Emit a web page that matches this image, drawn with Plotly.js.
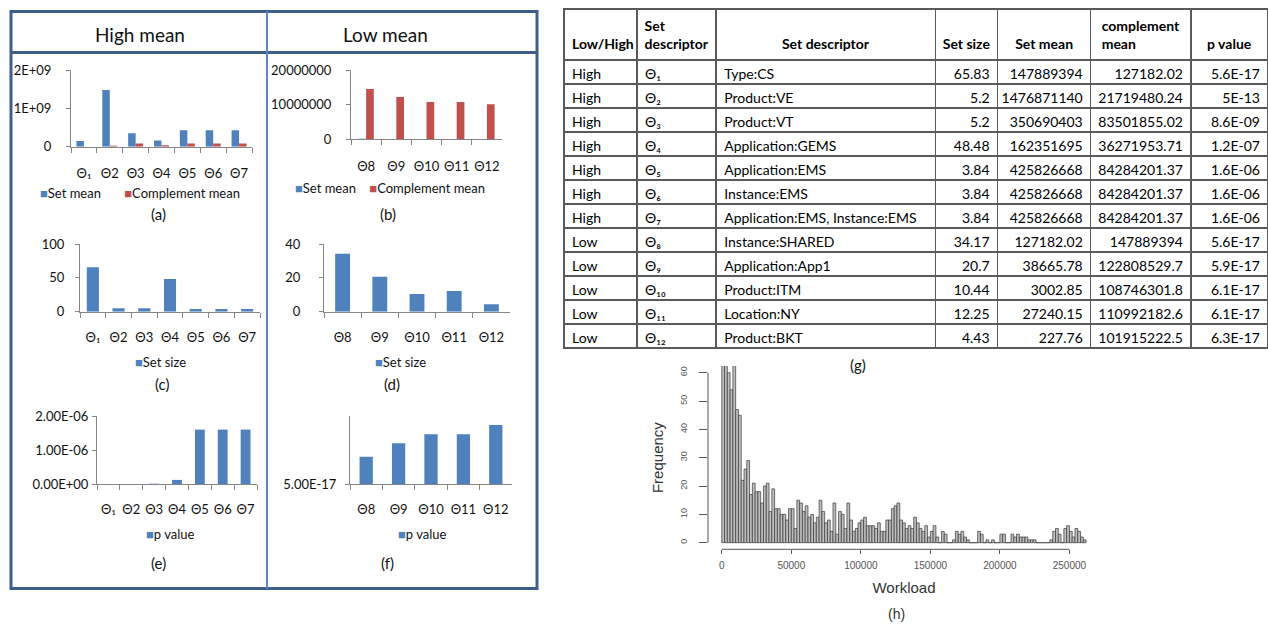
<!DOCTYPE html>
<html><head><meta charset="utf-8">
<script src="https://cdn.plot.ly/plotly-3.0.1.min.js"></script>
<style>html,body{margin:0;padding:0;background:#fff;}#chart{width:1268px;height:624px;}</style>
</head><body><div id="chart"></div>
<script>
// ---------- data: bar panels (a)-(f) ----------
const highSets = ['Θ₁','Θ2','Θ3','Θ4','Θ5','Θ6','Θ7'];
const lowSets = ['Θ8','Θ9','Θ10','Θ11','Θ12'];
const highSetMean = [147889394, 1476871140, 350690403, 162351695, 425826668, 425826668, 425826668];
const highComplementMean = [127182.02, 21719480.24, 83501855.02, 36271953.71, 84284201.37, 84284201.37, 84284201.37];
const lowSetMean = [127182.02, 38665.78, 3002.85, 27240.15, 227.76];
const lowComplementMean = [14500000, 12200000, 10800000, 10800000, 10100000];
const highSetSize = [65.83, 5.2, 5.2, 48.48, 3.84, 3.84, 3.84];
const lowSetSize = [34.17, 20.7, 10.44, 12.25, 4.43];
const highPValue = [5.6e-17, 5e-13, 8.6e-9, 1.2e-7, 1.6e-6, 1.6e-6, 1.6e-6];
const lowPValue = [5.6e-17, 5.9e-17, 6.1e-17, 6.1e-17, 6.3e-17];

// ---------- data: table (g) ----------
const tableHeader = ['\u00a0<br>Low/High', 'Set<br>descriptor', '\u00a0<br>Set descriptor', '\u00a0<br>Set size', '\u00a0<br>Set mean', 'complement<br>mean', '\u00a0<br>p value'];
const tableLowHigh = ['High','High','High','High','High','High','High','Low','Low','Low','Low','Low'];
const tableSetId = ['Θ₁','Θ₂','Θ₃','Θ₄','Θ₅','Θ₆','Θ₇','Θ₈','Θ₉','Θ₁₀','Θ₁₁','Θ₁₂'];
const tableDescriptor = ['Type:CS','Product:VE','Product:VT','Application:GEMS','Application:EMS','Instance:EMS','Application:EMS, Instance:EMS','Instance:SHARED','Application:App1','Product:ITM','Location:NY','Product:BKT'];
const tableSetSize = ['65.83','5.2','5.2','48.48','3.84','3.84','3.84','34.17','20.7','10.44','12.25','4.43'];
const tableSetMean = ['147889394','1476871140','350690403','162351695','425826668','425826668','425826668','127182.02','38665.78','3002.85','27240.15','227.76'];
const tableComplementMean = ['127182.02','21719480.24','83501855.02','36271953.71','84284201.37','84284201.37','84284201.37','147889394','122808529.7','108746301.8','110992182.6','101915222.5'];
const tablePValue = ['5.6E-17','5E-13','8.6E-09','1.2E-07','1.6E-06','1.6E-06','1.6E-06','5.6E-17','5.9E-17','6.1E-17','6.1E-17','6.3E-17'];

// ---------- data: histogram (h) ----------
const workloadBinWidth = 2000;
const workloadCounts = [72,68,60,54,66,47,45,22,26,29, 17,21,18,18,14,20,21,11,19,12,
  12,10,10,8,12,12,5,15,14,11, 13,9,10,7,9,15,11,7,8,4, 14,3,11,10,5,14,8,4,5,7,
  8,9,6,6,6,5,7,4,4,8, 8,12,13,14,8,7,5,6,5,9, 7,5,4,6,2,4,6,2,0,4,
  3,0,0,1,4,3,4,2,1,0, 0,0,4,3,0,1,0,1,0,0, 3,3,0,0,3,2,3,2,2,2,
  1,1,1,0,0,0,0,0,1,4, 5,3,0,5,6,4,2,5,4,2, 1];
const workloadTicks = [0, 50000, 100000, 150000, 200000, 250000];
const freqTicks = [0, 10, 20, 30, 40, 50, 60];

// ---------- layout helpers ----------
const W = 1268, H = 624;
const BLUE = '#4F81BD', RED = '#C0504D';
const dX = (a, b) => [a / W, b / W];
const dY = (top, bottom) => [1 - bottom / H, 1 - top / H];
const XL = 'Lato, "Liberation Sans", sans-serif';
const RF = '"Liberation Sans", Arial, sans-serif';

function catX(domain, anchor, standoff) {
  return {domain: domain, anchor: anchor, type: 'category', showline: true, linecolor: '#868686', linewidth: 1,
    ticks: 'outside', tickson: 'boundaries', ticklen: 5, tickcolor: '#868686', tickangle: 0,
    showgrid: false, zeroline: false, fixedrange: true, ticklabelstandoff: standoff,
    tickfont: {family: XL, size: 13, color: '#111'}};
}
function valY(domain, anchor, range, vals, text, standoff) {
  return {domain: domain, anchor: anchor, range: range, tickvals: vals, ticktext: text, showline: true,
    linecolor: '#868686', linewidth: 1, ticks: 'outside', ticklen: 4, tickcolor: '#868686',
    showgrid: false, zeroline: false, fixedrange: true, ticklabelstandoff: standoff,
    tickfont: {family: XL, size: 13, color: '#111'}};
}
function bar(x, y, xa, ya, color, width, offset) {
  const t = {type: 'bar', x: x, y: y, xaxis: xa, yaxis: ya, width: width,
    marker: {color: color, line: {width: 0}}, showlegend: false, hoverinfo: 'skip'};
  if (offset !== undefined) t.offset = offset;
  return t;
}

const traces = [
  bar(highSets, highSetMean, 'x', 'y', BLUE, 0.29, -0.29),
  bar(highSets, highComplementMean, 'x', 'y', RED, 0.29, 0),
  bar(lowSets, lowSetMean, 'x2', 'y2', BLUE, 0.255, -0.255),
  bar(lowSets, lowComplementMean, 'x2', 'y2', RED, 0.255, 0),
  bar(highSets, highSetSize, 'x3', 'y3', BLUE, 0.47),
  bar(lowSets, lowSetSize, 'x4', 'y4', BLUE, 0.4),
  bar(highSets, highPValue, 'x5', 'y5', BLUE, 0.43),
  bar(lowSets, lowPValue, 'x6', 'y6', BLUE, 0.41),
  {type: 'bar', x: workloadCounts.map((c, i) => i * workloadBinWidth + workloadBinWidth / 2),
    y: workloadCounts, width: workloadBinWidth, xaxis: 'x7', yaxis: 'y7',
    marker: {color: '#bdbdbd', line: {color: '#3a3a3a', width: 0.7}}, showlegend: false, hoverinfo: 'skip'},
  {type: 'table', domain: {x: [564 / W, 1], y: dY(9, 360)}, columnwidth: [73, 79, 219, 62, 93, 100, 77],
    header: {values: tableHeader, height: 48, align: ['left','center','center','center','center','center','center'],
      line: {color: '#5a5a5a', width: 1.5}, fill: {color: '#fff'},
      font: {family: XL, size: 14, color: '#000', weight: 'bold'}},
    cells: {values: [tableLowHigh, tableSetId, tableDescriptor, tableSetSize, tableSetMean, tableComplementMean, tablePValue],
      height: 24, align: ['left','left','left','right','right','right','right'],
      line: {color: '#5a5a5a', width: 1.5}, fill: {color: '#fff'},
      font: {family: XL, size: 14, color: '#000'}}}
];

function ann(text, x, y, size, extra) {
  return Object.assign({text: text, x: x / W, y: 1 - y / H, xref: 'paper', yref: 'paper',
    xanchor: 'center', yanchor: 'middle', showarrow: false,
    font: {family: XL, size: size, color: '#111'}}, extra || {});
}
const sw = c => '<span style="color:' + c + '">■</span>';
const sp = '\u00a0';

const layout = {
  width: W, height: H, margin: {l: 0, r: 0, t: 0, b: 0}, paper_bgcolor: '#fff', plot_bgcolor: 'rgba(0,0,0,0)',
  barmode: 'overlay', showlegend: false,
  xaxis: catX(dX(71, 252), 'y', 15), yaxis: valY(dY(70, 146.7), 'x', [0, 2e9], [0, 1e9, 2e9], ['0', '1E+09', '2E+09'], 12),
  xaxis2: catX(dX(351, 502), 'y2', 15), yaxis2: valY(dY(70, 139.3), 'x2', [0, 2e7], [0, 1e7, 2e7], ['0', '10000000', '20000000'], 12),
  xaxis3: catX(dX(80, 260), 'y3', 14), yaxis3: valY(dY(244, 311.7), 'x3', [0, 100], [0, 50, 100], ['0', '50', '100'], 8),
  xaxis4: catX(dX(324, 510), 'y4', 14), yaxis4: valY(dY(244, 311.7), 'x4', [0, 40], [0, 20, 40], ['0', '20', '40'], 16),
  xaxis5: catX(dX(97, 257), 'y5', 13), yaxis5: valY(dY(416, 484), 'x5', [0, 2e-6], [0, 1e-6, 2e-6], ['0.00E+00', '1.00E-06', '2.00E-06'], 1),
  xaxis6: catX(dX(350, 512), 'y6', 13), yaxis6: valY(dY(416, 484), 'x6', [5e-17, 6.5e-17], [5e-17], ['5.00E-17'], 6),
  xaxis7: {domain: dX(708, 1100), anchor: 'y7', range: [-9900, 272000], tickvals: workloadTicks, ticktext: workloadTicks.map(String),
    showline: false, showgrid: false, zeroline: false, ticks: 'outside', ticklen: 4, tickcolor: '#555', tickwidth: 1,
    ticklabelstandoff: 3, tickfont: {family: RF, size: 10, color: '#555'}, fixedrange: true,
    title: {text: 'Workload', standoff: 12, font: {family: RF, size: 15, color: '#333'}}},
  yaxis7: {domain: dY(365.9, 549.3), anchor: 'x7', range: [-2.33, 62.4], tickvals: freqTicks, ticktext: freqTicks.map(String),
    tickangle: -90, showline: false, showgrid: false, zeroline: false, ticks: 'outside', ticklen: 8, tickcolor: '#555',
    ticklabelstandoff: 8, tickfont: {family: RF, size: 9, color: '#555'}, fixedrange: true,
    title: {text: 'Frequency', standoff: 12, font: {family: RF, size: 15, color: '#333'}}},
  shapes: [
    {type: 'rect', xref: 'paper', yref: 'paper', x0: 11 / W, x1: 537 / W, y0: 1 - 588.5 / H, y1: 1 - 11.5 / H,
      line: {color: '#3e5f8a', width: 3}},
    {type: 'line', xref: 'paper', yref: 'paper', x0: 11 / W, x1: 537 / W, y0: 1 - 52.5 / H, y1: 1 - 52.5 / H,
      line: {color: '#3e5f8a', width: 3}},
    {type: 'line', xref: 'paper', yref: 'paper', x0: 267 / W, x1: 267 / W, y0: 1 - 588.5 / H, y1: 1 - 11.5 / H,
      line: {color: '#5b87c2', width: 2}},
    {type: 'line', xref: 'paper', yref: 'y7', x0: 708 / W, x1: 708 / W, y0: 0, y1: 60, line: {color: '#555', width: 1}},
    {type: 'line', xref: 'x7', yref: 'paper', x0: 0, x1: 250000, y0: 1 - 549.3 / H, y1: 1 - 549.3 / H, line: {color: '#555', width: 1}}
  ],
  annotations: [
    ann('High mean', 140, 34, 19),
    ann('Low mean', 385, 34, 19),
    ann(sw(BLUE) + 'Set mean' + sp.repeat(7) + sw(RED) + 'Complement mean', 140, 193, 13),
    ann(sw(BLUE) + 'Set mean' + sp.repeat(4) + sw(RED) + 'Complement mean', 390, 188, 13),
    ann('(a)', 158, 214, 15), ann('(b)', 388, 214, 15),
    ann(sw(BLUE) + 'Set size', 160, 362, 13), ann(sw(BLUE) + 'Set size', 400, 362, 13),
    ann('(c)', 162, 384, 15), ann('(d)', 392, 384, 15),
    ann(sw(BLUE) + 'p value', 170, 534, 13), ann(sw(BLUE) + 'p value', 422, 534, 13),
    ann('(e)', 158, 563, 15), ann('(f)', 387, 563, 15),
    ann('(g)', 858, 365, 15),
    ann('(h)', 896, 614, 14, {font: {family: RF, size: 14, color: '#333'}})
  ]
};

Plotly.newPlot('chart', traces, layout, {staticPlot: true, displayModeBar: false});
</script></body></html>
